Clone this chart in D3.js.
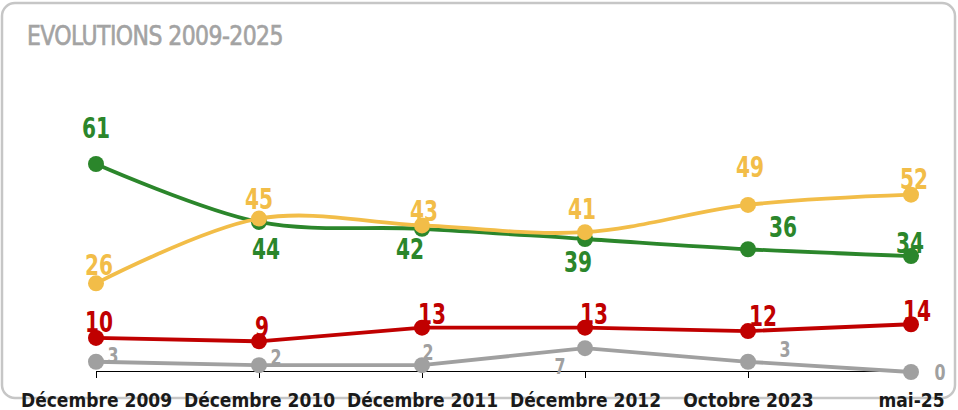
<!DOCTYPE html>
<html><head><meta charset="utf-8">
<script src="https://cdn.jsdelivr.net/npm/d3@7"></script>
<style>body{margin:0;background:#fff;} svg{display:block;}</style>
</head><body>
<svg id="c" width="958" height="410"></svg>
<script>
const categories = ["Décembre 2009","Décembre 2010","Décembre 2011","Décembre 2012","Octobre 2023","mai-25"];
const greenValues = [61,44,42,39,36,34];
const yellowValues = [26,45,43,41,49,52];
const redValues = [10,9,13,13,12,14];
const greyValues = [3,2,2,7,3,0];
const title = "EVOLUTIONS 2009-2025";

const series = [
  {values: greenValues, color:"#2b862b", size:28, smooth:true, off:[[0,-26],[7,37],[-12,30],[-7,33],[35,-12],[-1,-3]]},
  {values: yellowValues, color:"#f2bd48", size:28, smooth:true, off:[[3,-8],[0,-10],[2,-4],[-3,-13],[2,-28],[3,-6]]},
  {values: redValues, color:"#c00000", size:28, smooth:false, off:[[3,-6],[3,-4],[10,-4],[9,-4],[15,-5],[6,-3]]},
  {values: greyValues, color:"#a0a0a0", size:22, smooth:false, off:[[17,1],[17,0],[6,-5],[-25,26],[37,-5],[29,8]]}
];

const svg = d3.select("#c");
const font = "'DejaVu Sans Condensed','DejaVu Sans',sans-serif";

svg.append("rect").attr("x",2).attr("y",3).attr("width",953).attr("height",395)
  .attr("rx",13).attr("fill","#fff").attr("stroke","#c6c6c6").attr("stroke-width",2.5);

svg.append("text").attr("transform","translate(27,45) scale(0.94,1)").text(title)
  .attr("font-family",font).attr("font-weight","normal").attr("font-size",26).attr("fill","#a3a3a3").attr("letter-spacing",-0.6)
  .attr("stroke","#a3a3a3").attr("stroke-width",0.6);

const x = d3.scalePoint().domain(categories).range([96,911]);
const y = d3.scaleLinear().domain([0,61]).range([372,164]);

const axis = d3.axisBottom(x).tickSize(7).tickSizeOuter(0);
const ag = svg.append("g").attr("transform","translate(0,371)").call(axis);
ag.select(".domain").attr("stroke","#000").attr("stroke-width",1).attr("d",`M${x(categories[0])},0.5H${x(categories[categories.length-1])}`);
ag.selectAll(".tick line").attr("stroke","#000");
ag.selectAll(".tick text").attr("y",36).attr("dy",0).attr("font-family",font).attr("font-weight","bold")
  .attr("font-size",19).attr("fill","#1a1a1a");

const smoothLine = d3.line().x((d,i)=>x(categories[i])).y(d=>y(d)).curve(d3.curveCatmullRom.alpha(0.5));
const straightLine = d3.line().x((d,i)=>x(categories[i])).y(d=>y(d));

[3,2,0,1].forEach(k=>{
  const s = series[k];
  const g = svg.append("g");
  g.append("path").attr("d",(s.smooth?smoothLine:straightLine)(s.values)).attr("fill","none").attr("stroke",s.color).attr("stroke-width",3.8);
  g.selectAll("circle").data(s.values).join("circle")
    .attr("cx",(d,i)=>x(categories[i])).attr("cy",d=>y(d)).attr("r",8).attr("fill",s.color);
});
[3,2,0,1].forEach(k=>{
  const s = series[k];
  svg.append("g").selectAll("text").data(s.values).join("text")
    .attr("transform",(d,i)=>`translate(${x(categories[i])+s.off[i][0]},${y(d)+s.off[i][1]}) scale(0.8,1)`)
    .attr("text-anchor","middle")
    .attr("font-family",font).attr("font-weight",600).attr("font-size",s.size).attr("fill",s.color)
    .text(d=>d);
});
</script>
</body></html>
